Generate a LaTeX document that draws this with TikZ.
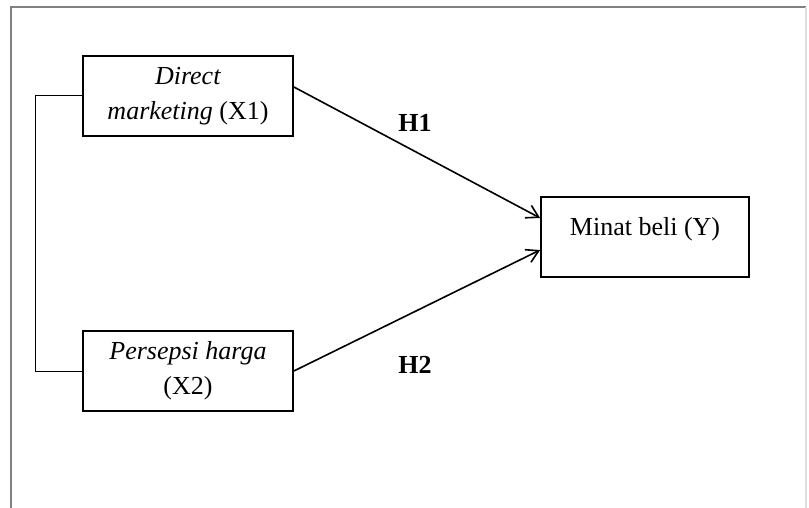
\documentclass[tikz,border=0pt]{standalone}
\usepackage{fontspec}
\setmainfont{Liberation Serif}
\usetikzlibrary{arrows.meta}
\begin{document}
\begin{tikzpicture}[x=0.5pt,y=-0.5pt,
    varbox/.style={draw,line width=0.9pt,minimum width=105pt,minimum height=40pt,align=center,font=\fontsize{13}{17.5}\selectfont},
    hyp/.style={font=\fontsize{13}{16}\selectfont\bfseries},
    path/.style={line width=0.8pt,-{Straight Barb[length=6pt,width=7pt]}}]
\useasboundingbox (0,0) rectangle (809,508);
\draw[gray,line width=0.8pt] (11,508) -- (11,7) -- (806,7);
\draw[gray!25,line width=0.6pt] (806,7) -- (806,508);
\node[varbox] (x1) at (188,96) {\textit{Direct}\\\textit{marketing} (X1)};
\node[varbox] (x2) at (188,371) {\textit{Persepsi harga}\\(X2)};
\node[varbox,text height=9pt,text depth=11pt,minimum width=104pt] (y) at (645,237) {Minat beli (Y)};
\draw[line width=0.5pt] (x1.west) -- ++(-47,0) |- (x2.west);
\draw[path] ([yshift=4.5pt]x1.east) -- ([yshift=9.5pt]y.west);
\draw[path] (x2.east) -- ([yshift=-6.5pt]y.west);
\node[hyp] (h1) at (415,123) {H1};
\node[hyp] (h2) at (415,365) {H2};
\end{tikzpicture}
\end{document}
